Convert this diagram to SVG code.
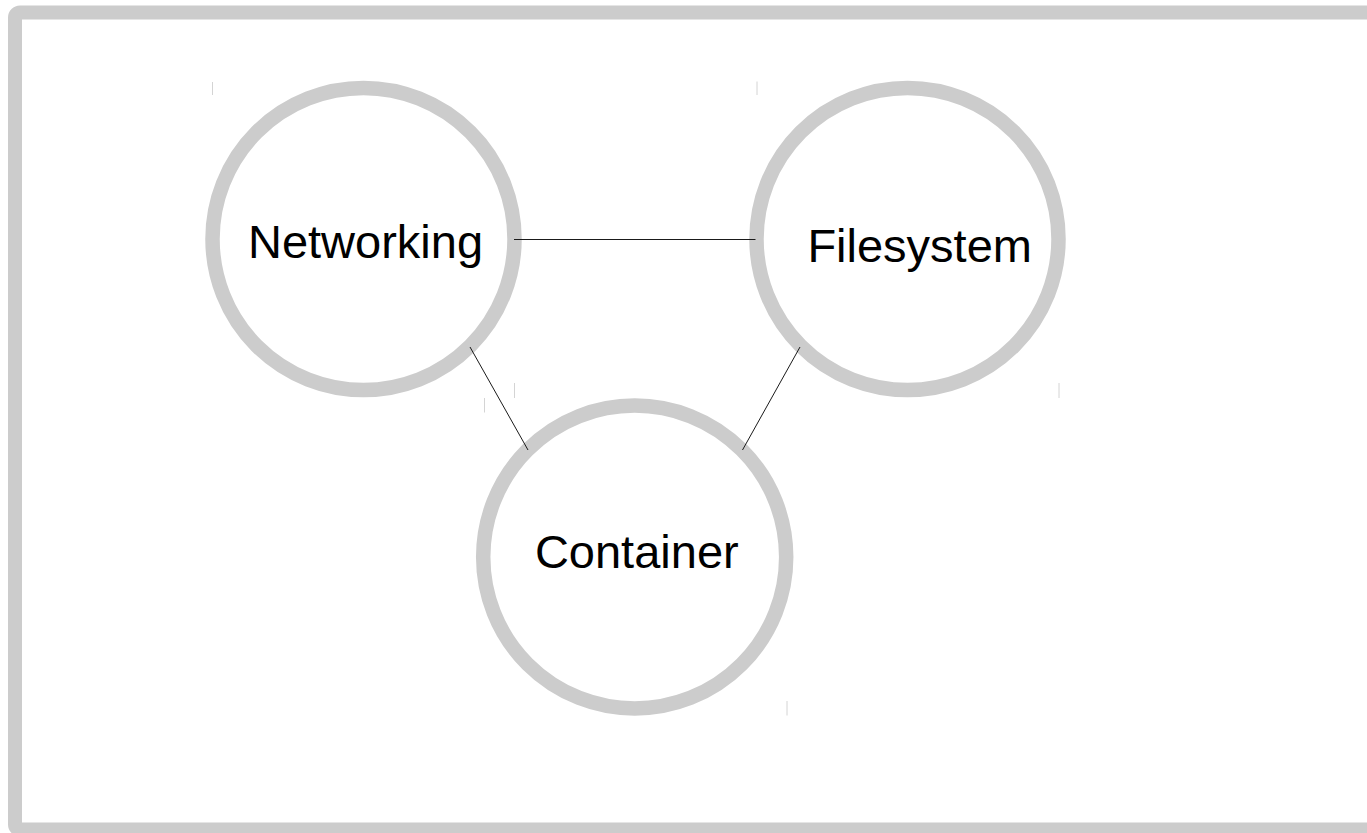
<svg xmlns="http://www.w3.org/2000/svg" width="1367" height="833" viewBox="0 0 1367 833">
  <style>
    .frame { fill: #ffffff; stroke: #cccccc; stroke-width: 14; }
    .node circle { fill: #ffffff; stroke: #cccccc; stroke-width: 14.5; }
    .node text { font-family: "Liberation Sans", Arial, sans-serif; font-size: 47px; fill: #000000; text-anchor: middle; }
    .tick { stroke: #d4d4d4; stroke-width: 1; }
    .edge { stroke: #1a1a1a; stroke-width: 1; fill: none; }
  </style>

  <rect x="0" y="0" width="1367" height="833" fill="#ffffff"/>
  <rect class="frame" x="15" y="12.5" width="1372" height="817" rx="5"/>

  <g id="networking" class="node">
    <circle cx="363.5" cy="239" r="151"/>
    <text x="365.5" y="258">Networking</text>
    <line class="tick" x1="212.5" y1="82" x2="212.5" y2="95"/>
    <line class="tick" x1="514.5" y1="383" x2="514.5" y2="398"/>
  </g>

  <g id="filesystem" class="node">
    <circle cx="907.5" cy="239" r="151"/>
    <text x="919.7" y="261.7">Filesystem</text>
    <line class="tick" x1="757" y1="81.5" x2="757" y2="95"/>
    <line class="tick" x1="1059" y1="383" x2="1059" y2="398"/>
  </g>

  <g id="container" class="node">
    <circle cx="634.7" cy="557" r="151.5"/>
    <text x="636.8" y="568.3">Container</text>
    <line class="tick" x1="484.5" y1="398" x2="484.5" y2="412.5"/>
    <line class="tick" x1="787" y1="701" x2="787" y2="715.5"/>
  </g>

  <!-- connectors, drawn over the circle rims -->
  <g id="connectors">
    <line class="edge" x1="514" y1="239.5" x2="755.5" y2="239.5"/>
    <line class="edge" x1="470" y1="347" x2="528" y2="450"/>
    <line class="edge" x1="800" y1="347" x2="742.5" y2="450"/>
  </g>
</svg>
